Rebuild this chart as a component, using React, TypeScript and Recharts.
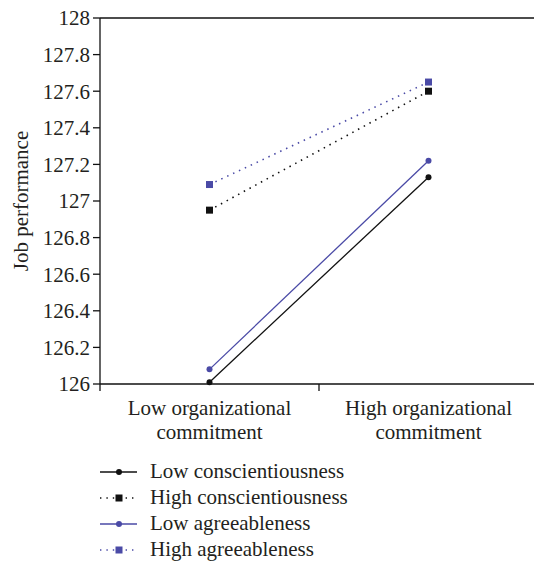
import React from 'react';
import { LineChart, Line, XAxis, YAxis, Legend, ReferenceLine } from 'recharts';

const categories = ['Low organizational\ncommitment', 'High organizational\ncommitment'];
const categoryPositions = [0.5, 1.5];
const boundaryTicks = [0, 1, 2];
const yTicks = [126, 126.2, 126.4, 126.6, 126.8, 127, 127.2, 127.4, 127.6, 127.8, 128];

const seriesNames = ['Low conscientiousness', 'High conscientiousness', 'Low agreeableness', 'High agreeableness'];
const lowConscientiousness = [126.01, 127.13];
const highConscientiousness = [126.95, 127.6];
const lowAgreeableness = [126.08, 127.22];
const highAgreeableness = [127.09, 127.65];

const BLUE = '#4a4aa6';
const BLACK = '#111111';
const FONT = '"Liberation Serif", "Times New Roman", serif';
const TEXT = '#231f20';
const FS = 21;

const seriesConfig = [
  { key: 'lowC', name: seriesNames[0], values: lowConscientiousness, color: BLACK, dotted: false, square: false },
  { key: 'highC', name: seriesNames[1], values: highConscientiousness, color: BLACK, dotted: true, square: true },
  { key: 'lowA', name: seriesNames[2], values: lowAgreeableness, color: BLUE, dotted: false, square: false },
  { key: 'highA', name: seriesNames[3], values: highAgreeableness, color: BLUE, dotted: true, square: true },
];

const data = categoryPositions.map((x, i) => {
  const row: Record<string, number> = { x };
  seriesConfig.forEach((s) => {
    row[s.key] = s.values[i];
  });
  return row;
});

const makeDot = (color: string, square: boolean) => (props: any) => {
  const { cx, cy, index } = props;
  if (cx == null || cy == null) return <g key={index} />;
  if (square) {
    return <rect key={index} x={cx - 3.5} y={cy - 3.5} width={7} height={7} fill={color} />;
  }
  return <circle key={index} cx={cx} cy={cy} r={3} fill={color} />;
};

const CategoryTick = (props: any) => {
  const { x, y, payload } = props;
  const idx = categoryPositions.indexOf(payload.value);
  const label = idx >= 0 ? categories[idx] : '';
  const lines = label.split('\n');
  return (
    <text x={x} y={y} textAnchor="middle" fontFamily={FONT} fontSize={FS} fill={TEXT}>
      {lines.map((l, i) => (
        <tspan key={i} x={x} dy={i === 0 ? 15 : 24}>
          {l}
        </tspan>
      ))}
    </text>
  );
};

const LegendContent = () => (
  <svg width={300} height={110}>
    {seriesConfig.map((s, i) => {
      const cy = 14 + i * 26;
      return (
        <g key={s.key}>
          <line
            x1={0}
            x2={37}
            y1={cy}
            y2={cy}
            stroke={s.color}
            strokeWidth={1.4}
            strokeDasharray={s.dotted ? '1.4 5' : undefined}
          />
          {s.square ? (
            <rect x={15.5} y={cy - 3.5} width={7} height={7} fill={s.color} />
          ) : (
            <circle cx={19} cy={cy} r={3} fill={s.color} />
          )}
          <text x={50} y={cy + 6} fontFamily={FONT} fontSize={FS} fill={TEXT}>
            {s.name}
          </text>
        </g>
      );
    })}
  </svg>
);

const YLabel = (props: any) => {
  const { viewBox } = props;
  const cx = 21;
  const cy = viewBox.y + viewBox.height / 2;
  return (
    <text
      x={cx}
      y={cy}
      transform={`rotate(-90, ${cx}, ${cy})`}
      textAnchor="middle"
      dominantBaseline="central"
      fontFamily={FONT}
      fontSize={FS}
      fill={TEXT}
    >
      Job performance
    </text>
  );
};

export default function App() {
  return (
    <div style={{ position: 'absolute', left: 0, top: 0, width: 534, height: 564, overflow: 'hidden', background: '#fff' }}>
      <LineChart width={538} height={564} data={data} margin={{ top: 18, right: 0, bottom: 112, left: 0 }}>
        <XAxis
          xAxisId={0}
          dataKey="x"
          type="number"
          domain={[0, 2]}
          ticks={boundaryTicks}
          tickFormatter={() => ''}
          height={8}
          tickSize={7}
          stroke={BLACK}
          strokeWidth={1.3}
          allowDataOverflow
        />
        <XAxis
          xAxisId={1}
          dataKey="x"
          type="number"
          domain={[0, 2]}
          ticks={categoryPositions}
          axisLine={false}
          tickLine={false}
          height={60}
          tick={<CategoryTick />}
          interval={0}
        />
        <YAxis
          yAxisId="y"
          domain={[126, 128]}
          ticks={yTicks}
          width={100}
          interval={0}
          tickSize={7}
          tickMargin={3}
          stroke={BLACK}
          strokeWidth={1.3}
          tick={{ fontFamily: FONT, fontSize: FS, fill: TEXT }}
          label={<YLabel />}
        />
        <ReferenceLine xAxisId={0} yAxisId="y" y={128} stroke={BLACK} strokeWidth={1.3} />
        {seriesConfig.map((s) => (
          <Line
            key={s.key}
            xAxisId={0}
            yAxisId="y"
            type="linear"
            dataKey={s.key}
            name={s.name}
            stroke={s.color}
            strokeWidth={s.dotted ? 1.6 : 1.3}
            strokeDasharray={s.dotted ? '1.5 5' : undefined}
            dot={makeDot(s.color, s.square)}
            activeDot={false}
            isAnimationActive={false}
          />
        ))}
        <Legend
          layout="vertical"
          align="center"
          verticalAlign="middle"
          wrapperStyle={{ top: 458, left: 100, width: 300 }}
          content={<LegendContent />}
        />
      </LineChart>
    </div>
  );
}
